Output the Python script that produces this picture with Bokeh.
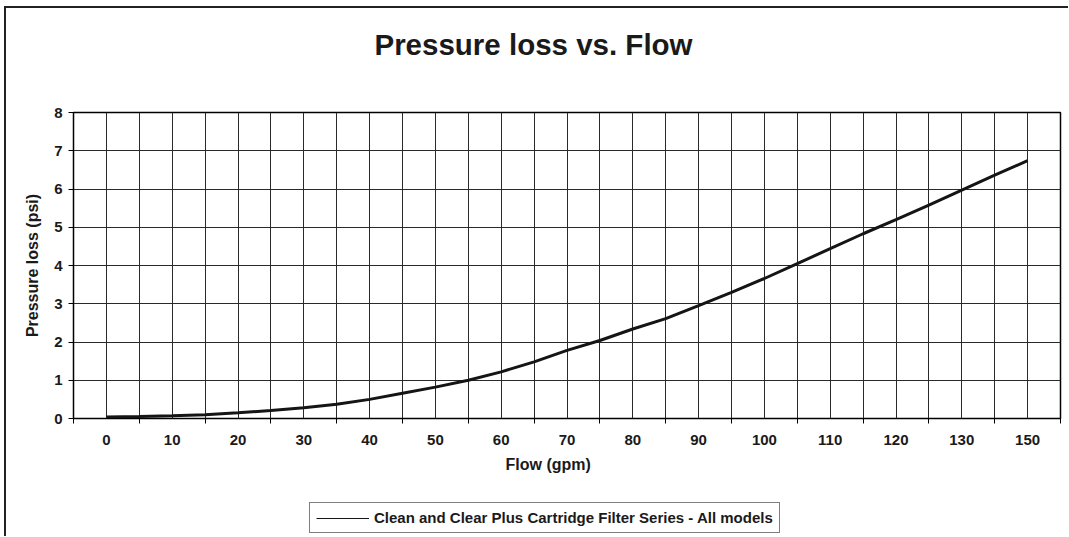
import numpy as np
from bokeh.plotting import figure
from bokeh.layouts import column
from bokeh.models import (Range1d, FixedTicker, Legend, LegendItem, Title,
                          Label, ColumnDataSource)
from bokeh.embed import file_html
from bokeh.resources import INLINE

# ---------------- data ----------------
flow_labels = ["0", "10", "20", "30", "40", "50", "60", "70", "80", "90",
               "100", "110", "120", "130", "150"]
# pressure loss read at every category centre and category boundary
pressure = [0.04, 0.05, 0.07, 0.10, 0.15, 0.21, 0.28, 0.37, 0.50, 0.66,
            0.82, 1.00, 1.22, 1.48, 1.78, 2.04, 2.34, 2.61, 2.95, 3.30,
            3.66, 4.05, 4.44, 4.83, 5.20, 5.58, 5.97, 6.36, 6.74]
series_name = "Clean and Clear Plus Cartridge Filter Series - All models"
chart_title = "Pressure loss vs. Flow"
y_ticks = [0, 1, 2, 3, 4, 5, 6, 7, 8]

n_cat = len(flow_labels)
x_pos = np.arange(len(pressure)) * 0.5   # half-category steps

# ---------------- layout ----------------
W, H0, H1, H2 = 1062, 60, 434, 34
FL, FR, FT, FB = 67, 1054, 44, 350          # frame of main plot, canvas px
FONT = "Liberation Sans"
TXT = "#1a1a1a"


def strip(height):
    s = figure(width=W, height=height, output_backend="svg",
               toolbar_location=None,
               x_range=Range1d(0, FR - FL), y_range=Range1d(0, height),
               x_axis_location=None, y_axis_location=None,
               min_border_left=FL, min_border_right=W - FR,
               min_border_top=0, min_border_bottom=0)
    s.title = None
    s.grid.visible = False
    s.outline_line_color = None
    s.background_fill_color = "white"
    s.border_fill_color = "white"
    return s


# ---------------- title strip ----------------
p0 = strip(H0)
p0.add_layout(Label(x=460, y=24, text=chart_title, text_align="center",
                    text_baseline="alphabetic", text_font=FONT,
                    text_font_style="bold", text_font_size="29.5px",
                    text_color=TXT))

# ---------------- main plot ----------------
p = figure(width=W, height=H1, output_backend="svg", toolbar_location=None,
           x_range=Range1d(-0.5, n_cat - 0.5), y_range=Range1d(0, 8),
           min_border_left=FL, min_border_right=W - FR,
           min_border_top=FT, min_border_bottom=H1 - FB)
p.title = None
p.background_fill_color = "white"
p.border_fill_color = "white"
p.outline_line_color = "black"
p.outline_line_width = 1.5

centers = list(range(n_cat))
bounds = [i - 0.5 for i in range(n_cat + 1)]
xt = FixedTicker(ticks=centers, minor_ticks=bounds)
yt = FixedTicker(ticks=y_ticks)

# grids
p.xgrid.ticker = xt
p.xgrid.grid_line_color = "#2a2a2a"
p.xgrid.grid_line_width = 1
p.xgrid.minor_grid_line_color = "#2a2a2a"
p.xgrid.minor_grid_line_width = 1
p.ygrid.ticker = yt
p.ygrid.grid_line_color = "#2a2a2a"
p.ygrid.grid_line_width = 1

# x axis
xa = p.xaxis[0]
xa.ticker = xt
xa.major_label_overrides = {i: lab for i, lab in enumerate(flow_labels)}
xa.major_tick_out = 0
xa.major_tick_in = 0
xa.minor_tick_out = 5
xa.minor_tick_in = 0
xa.minor_tick_line_color = "black"
xa.axis_line_color = "black"
xa.major_label_standoff = 11
xa.major_label_text_font = FONT
xa.major_label_text_font_style = "bold"
xa.major_label_text_font_size = "15px"
xa.major_label_text_color = TXT

# y axis
ya = p.yaxis[0]
ya.ticker = yt
ya.major_tick_out = 5
ya.major_tick_in = 0
ya.minor_tick_out = 0
ya.minor_tick_in = 0
ya.axis_line_color = "black"
ya.major_label_standoff = 6
ya.major_label_text_font = FONT
ya.major_label_text_font_style = "bold"
ya.major_label_text_font_size = "15px"
ya.major_label_text_color = TXT
ya.axis_label = "Pressure loss (psi)"
ya.axis_label_standoff = 10
ya.axis_label_text_font = FONT
ya.axis_label_text_font_style = "bold"
ya.axis_label_text_font_size = "16px"
ya.axis_label_text_color = TXT

# data line
src = ColumnDataSource(dict(x=x_pos, y=pressure))
r = p.line("x", "y", source=src, line_color="#151515", line_width=3)

# x axis title (placed below the axis)
xt_title = Title(text="Flow (gpm)", align="left", offset=432, standoff=12,
                 text_font=FONT, text_font_style="bold",
                 text_font_size="16px", text_color=TXT)
p.add_layout(xt_title, "below")

# ---------------- legend strip ----------------
p2 = strip(H2)
# legend sample line (its points lie outside the strip's range)
r2 = p2.line(x=[5000, 6000], y=[500, 600], line_color="#151515",
             line_width=1)
leg = Legend(items=[LegendItem(label=series_name, renderers=[r2])],
             location=(236, 3), orientation="horizontal",
             glyph_width=53, glyph_height=16, label_height=16,
             label_standoff=5, padding=6, margin=0,
             border_line_color="black", border_line_width=1,
             background_fill_color="white", background_fill_alpha=1,
             label_text_font=FONT, label_text_font_style="bold",
             label_text_font_size="15px", label_text_color=TXT)
p2.add_layout(leg, "center")

lay = column(p0, p, p2, spacing=0)
lay.styles = {"border-left": "2px solid #222222",
              "border-top": "2px solid #222222",
              "margin-left": "4px", "margin-top": "6px"}

open("out.html", "w").write(file_html(lay, INLINE))
